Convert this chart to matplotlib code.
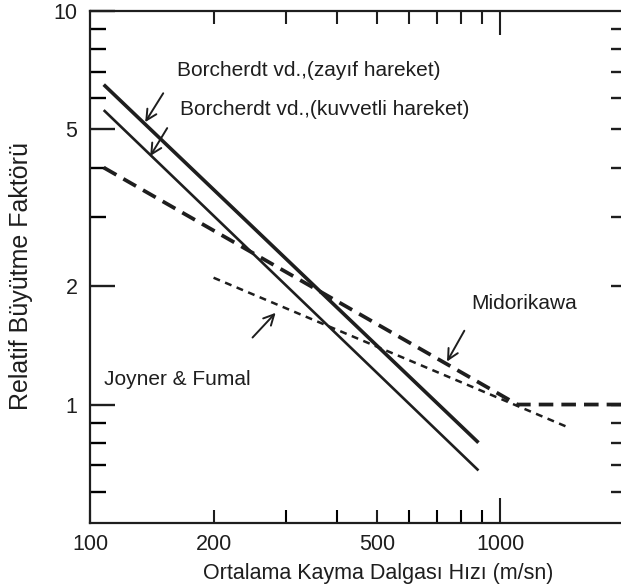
import numpy as np
import matplotlib
matplotlib.use("Agg")
import matplotlib.pyplot as plt
from matplotlib.ticker import FixedLocator, NullFormatter, FixedFormatter

plt.rcParams['font.family'] = ['Liberation Sans', 'DejaVu Sans']
plt.rcParams['lines.scale_dashes'] = False

# okunan değerler (log-log)
bor_zayif_v = [108, 884]
bor_zayif_f = [6.5, 0.80]
bor_kuv_v = [108, 884]
bor_kuv_f = [5.6, 0.68]
joyner_v = [108, 1100, 2000]
joyner_f = [4.0, 1.0, 1.0]
mido_v = [200, 1466]
mido_f = [2.1, 0.874]

x_major = [100, 200, 500, 1000]
x_labels = ["100", "200", "500", "1000"]
x_minor = [300, 400, 600, 700, 800, 900]
y_major = [1, 2, 5, 10]
y_labels = ["1", "2", "5", "10"]
y_minor = [0.6, 0.7, 0.8, 0.9, 3, 4, 6, 7, 8, 9]

ink = '#1e1e1e'
W, H = 621, 588
fig = plt.figure(figsize=(W / 100, H / 100), dpi=100)
ax = fig.add_axes([90 / W, 1 - 523 / H, (624 - 90) / W, (523 - 11) / H])

ax.plot(bor_zayif_v, bor_zayif_f, color=ink, lw=2.6, solid_capstyle='butt')
ax.plot(bor_kuv_v, bor_kuv_f, color=ink, lw=1.9, solid_capstyle='butt')
ax.plot(joyner_v, joyner_f, color=ink, lw=2.7, dashes=(10.5, 5.8), dash_capstyle='butt')
ax.plot(mido_v, mido_f, color=ink, lw=1.8, dashes=(5, 4), dash_capstyle='butt')

ax.set_xscale('log')
ax.set_yscale('log')
ax.set_xlim(100, 2000)
ax.set_ylim(0.5, 10)

for s in ax.spines.values():
    s.set_linewidth(1.6)
    s.set_color(ink)

# sol / alt tikler
ax.xaxis.set_major_locator(FixedLocator(x_major))
ax.xaxis.set_major_formatter(FixedFormatter(x_labels))
ax.xaxis.set_minor_locator(FixedLocator(x_minor))
ax.xaxis.set_minor_formatter(NullFormatter())
ax.yaxis.set_major_locator(FixedLocator(y_major))
ax.yaxis.set_major_formatter(FixedFormatter(y_labels))
ax.yaxis.set_minor_locator(FixedLocator(y_minor))
ax.yaxis.set_minor_formatter(NullFormatter())
ax.tick_params(axis='y', which='major', direction='in', length=18, width=1.7,
               pad=9, labelsize=15.5, colors=ink, right=False)
ax.tick_params(axis='y', which='minor', direction='in', length=11.5, width=1.7, right=False)
ax.tick_params(axis='x', which='major', direction='in', length=9.4, width=1.5,
               pad=8, labelsize=15.5, colors=ink, top=False)
ax.tick_params(axis='x', which='minor', direction='in', length=9.4, width=1.5, top=False)
ax.xaxis.get_major_ticks()[0].tick1line.set_visible(False)
ax.xaxis.get_major_ticks()[3].tick1line.set_markersize(18)

# sağ / üst tikler
axr = ax.twinx()
axr.set_yscale('log')
axr.set_ylim(0.5, 10)
axr.yaxis.set_major_locator(FixedLocator(y_minor + [1, 2, 5]))
axr.yaxis.set_minor_locator(FixedLocator([]))
axr.yaxis.set_major_formatter(NullFormatter())
axr.tick_params(axis='y', direction='in', length=9.4, width=1.7, colors=ink)
axt = ax.twiny()
axt.set_xscale('log')
axt.set_xlim(100, 2000)
axt.xaxis.set_major_locator(FixedLocator([200, 300, 400, 500, 600, 700, 800, 900, 1000]))
axt.xaxis.set_minor_locator(FixedLocator([]))
axt.xaxis.set_major_formatter(NullFormatter())
axt.tick_params(axis='x', direction='in', length=9.4, width=1.5, colors=ink)
axt.xaxis.get_major_ticks()[-1].tick2line.set_markersize(17)
for a in (axr, axt):
    for s in a.spines.values():
        s.set_visible(False)

ax.set_xlabel("Ortalama Kayma Dalgası Hızı (m/sn)", fontsize=15.5, color=ink)
ax.xaxis.set_label_coords(0.539, -0.078)
ax.set_ylabel("Relatif Büyütme Faktörü", fontsize=18, color=ink)
ax.yaxis.set_label_coords(-0.106, 0.482)

fs = 15
ax.text(163, 7.04, "Borcherdt vd.,(zayıf hareket)", fontsize=fs, va='center', color=ink)
ax.text(166, 5.63, "Borcherdt vd.,(kuvvetli hareket)", fontsize=fs, va='center', color=ink)
ax.text(108, 1.158, "Joyner & Fumal", fontsize=fs, va='center', color=ink)
ax.text(849, 1.807, "Midorikawa", fontsize=fs, va='center', color=ink)

arw = dict(arrowstyle='->,head_length=0.75,head_width=0.38', lw=1.4, color=ink,
           shrinkA=0, shrinkB=0)
ax.annotate("", xy=(136.3, 5.22), xytext=(150.8, 6.18), arrowprops=arw)
ax.annotate("", xy=(140.2, 4.28), xytext=(154.2, 5.04), arrowprops=arw)
ax.annotate("", xy=(283.3, 1.71), xytext=(248.9, 1.48), arrowprops=arw)
ax.annotate("", xy=(741, 1.286), xytext=(816.6, 1.54), arrowprops=arw)

fig.savefig("out.png", dpi=100)
